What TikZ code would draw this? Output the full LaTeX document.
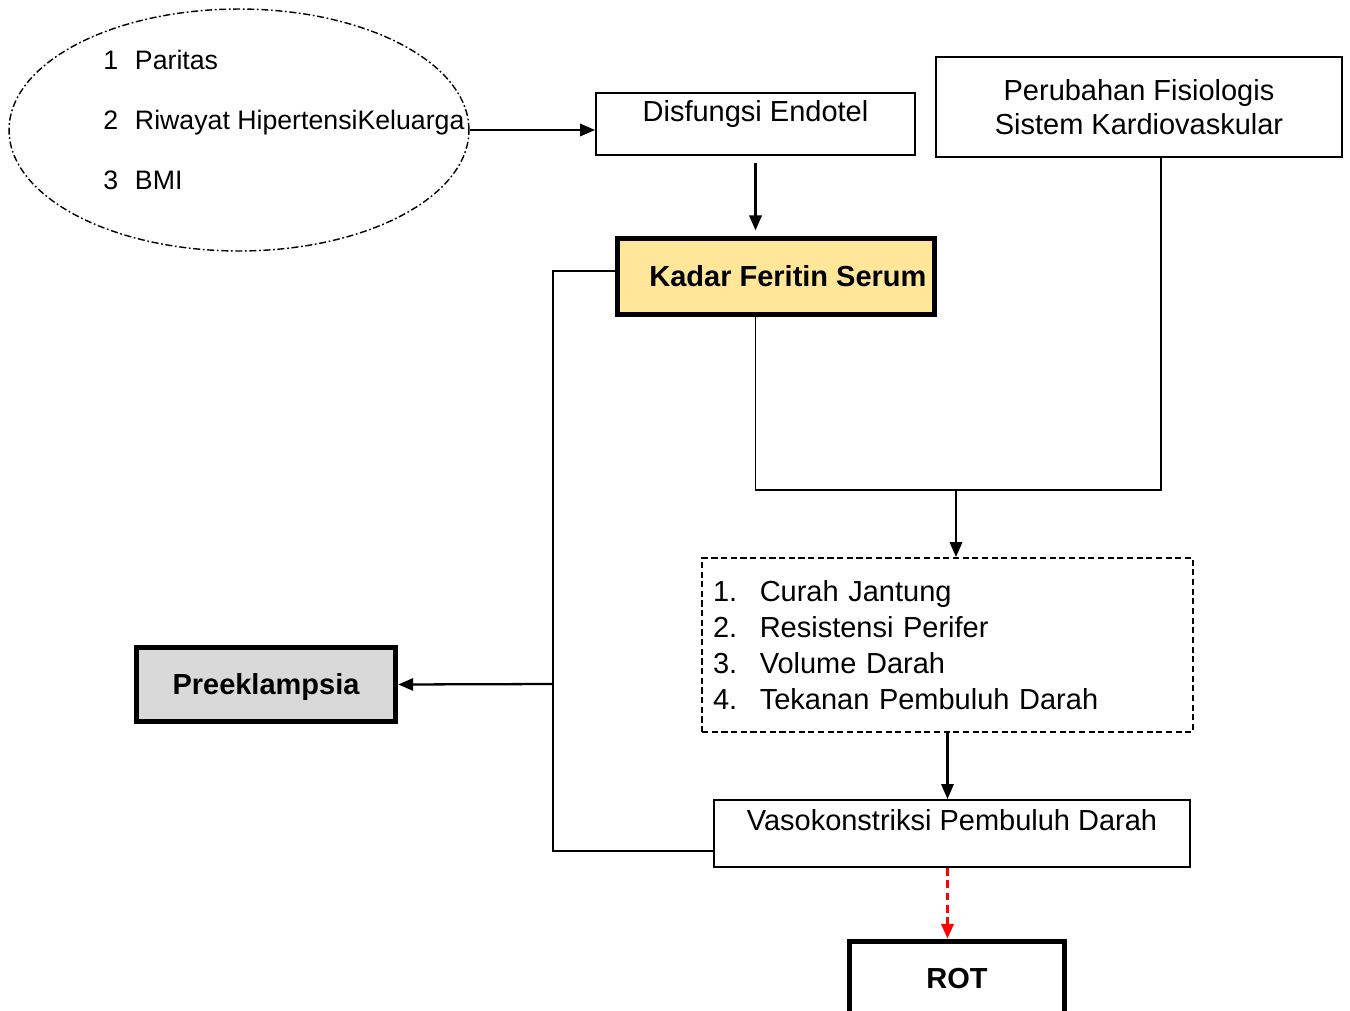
\documentclass[tikz,border=0pt]{standalone}
\usepackage{fontspec}
\setmainfont{Liberation Sans}
\usetikzlibrary{positioning, arrows.meta, shapes.geometric}
\definecolor{kadarfill}{RGB}{255,230,153}
\definecolor{preekfill}{RGB}{217,217,217}

\begin{document}
\begin{tikzpicture}[
	x=0.02cm, y=-0.02cm,
	font=\fontsize{16.5}{19.5}\selectfont,
	box/.style={rectangle, draw, line width=1.1pt, inner sep=0pt, align=center},
	boldbox/.style={rectangle, draw, line width=3.2pt, inner sep=0pt, font=\fontsize{16.5}{19.5}\selectfont\bfseries},
	arrow/.style={line width=1.3pt, -{Triangle[length=8.5pt,width=7pt]}},
	link/.style={line width=0.9pt}
	]
	\useasboundingbox (0,0) rectangle (1350,1011);

	% Nodes
	\node[ellipse, draw, line width=0.8pt, dash pattern=on 4pt off 1.5pt on 1pt off 1.5pt, minimum width=9.2cm, minimum height=4.84cm] (factors) at (239,130) {};
	\node[anchor=west, align=left, inner sep=0pt, font=\fontsize{15.2}{34}\selectfont] (factorlist) at (103,120) {\makebox[18pt][l]{1}Paritas\\ \makebox[18pt][l]{2}Riwayat HipertensiKeluarga\\ \makebox[18pt][l]{3}BMI};

	\node[box, minimum width=6.38cm, text height=0.56cm, text depth=0.68cm] (disf) at (755.5,124) {Disfungsi Endotel};
	\node[box, minimum width=8.12cm, minimum height=2cm] (cardio) at (1139,107) {Perubahan Fisiologis\\Sistem Kardiovaskular};

	\node[boldbox, fill=kadarfill, minimum width=6.34cm, minimum height=1.52cm] (kadar) at (776,276.5) {\hspace*{13.6pt}Kadar Feritin Serum};

	\node[box, dash pattern=on 3.5pt off 2pt, inner xsep=0.22cm, text width=9.38cm, minimum height=3.48cm, align=left, font=\fontsize{16.5}{20.6}\selectfont] (effects) at (947.5,645) {\makebox[26.6pt][l]{1.}Curah Jantung\\ \makebox[26.6pt][l]{2.}Resistensi Perifer\\ \makebox[26.6pt][l]{3.}Volume Darah\\ \makebox[26.6pt][l]{4.}Tekanan Pembuluh Darah};

	\node[box, minimum width=9.52cm, text height=0.6cm, text depth=0.74cm] (vaso) at (952,833.5) {Vasokonstriksi Pembuluh Darah};
	\node[boldbox, minimum width=4.3cm, minimum height=1.48cm] (rot) at (957,978.5) {ROT};

	\node[boldbox, fill=preekfill, minimum width=5.18cm, minimum height=1.48cm, text height=0.42cm, text depth=0.02cm] (preek) at (266,684.5) {Preeklampsia};

	\coordinate (merge) at (956,490);
	\coordinate (cardioDrop) at (1161,490);
	\coordinate (busTop) at (553,271);
	\coordinate (busMid) at (553,684);
	\coordinate (busBot) at (553,851);

	% Arrows
	\draw[arrow] (factors.east) -- (factors.east -| disf.west);
	\draw[arrow, shorten <=4pt, shorten >=3pt] (disf.south) -- (disf.south |- kadar.north);

	\draw[link] (disf.south |- kadar.south) -- (disf.south |- merge) -- (cardioDrop) -- (cardioDrop |- cardio.south);
	\draw[arrow] (merge) -- (merge |- effects.north);

	\draw[arrow] (effects.south) -- (effects.south |- vaso.north);
	\draw[arrow, red, line width=1.8pt, dash pattern=on 4.5pt off 2.5pt] (vaso.south -| effects.south) -- (rot.north -| effects.south);

	% Feedback to Preeklampsia
	\draw[link] (kadar.west |- busTop) -- (busTop) -- (busBot) -- (busBot -| vaso.west);
	\draw[arrow] (busMid) -- (preek.east);

\end{tikzpicture}
\end{document}
